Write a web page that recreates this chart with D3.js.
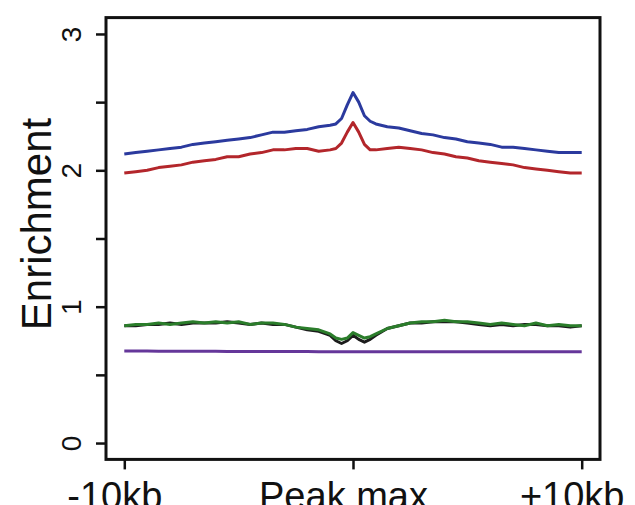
<!DOCTYPE html>
<html>
<head>
<meta charset="utf-8">
<script src="https://cdn.jsdelivr.net/npm/d3@7"></script>
<style>
  body { margin: 0; background: #fff; }
  svg { display: block; }
  text { font-family: "Liberation Sans", Arial, Helvetica, sans-serif; fill: #111; }
</style>
</head>
<body>
<div id="chart"></div>
<script>
(function() {

    var width = 635;
    var height = 505;

    // distance from peak max, in bp
    var positions = [-10000, -9500, -9000, -8500, -8000, -7500, -7000, -6500, -6000, -5500,
                     -5000, -4500, -4000, -3500, -3000, -2500, -2000, -1500, -1000, -750,
                     -500, -250, 0, 250, 500, 750, 1000, 1500, 2000, 2500,
                     3000, 3500, 4000, 4500, 5000, 5500, 6000, 6500, 7000, 7500,
                     8000, 8500, 9000, 9500, 10000];

    var blueVals = [2.12, 2.13, 2.14, 2.15, 2.16, 2.17, 2.19, 2.20, 2.21, 2.22,
                    2.23, 2.24, 2.26, 2.28, 2.28, 2.29, 2.30, 2.32, 2.33, 2.34,
                    2.38, 2.48, 2.57, 2.50, 2.40, 2.36, 2.34, 2.32, 2.31, 2.29,
                    2.27, 2.26, 2.24, 2.23, 2.21, 2.20, 2.19, 2.17, 2.17, 2.16,
                    2.15, 2.14, 2.13, 2.13, 2.13];

    var redVals = [1.98, 1.99, 2.00, 2.02, 2.03, 2.04, 2.06, 2.07, 2.08, 2.10,
                   2.10, 2.12, 2.13, 2.15, 2.15, 2.16, 2.16, 2.14, 2.15, 2.16,
                   2.20, 2.28, 2.35, 2.28, 2.19, 2.15, 2.15, 2.16, 2.17, 2.16,
                   2.15, 2.13, 2.12, 2.10, 2.09, 2.07, 2.06, 2.05, 2.04, 2.02,
                   2.01, 2.00, 1.99, 1.98, 1.98];

    var blackVals = [0.86, 0.86, 0.87, 0.87, 0.88, 0.87, 0.88, 0.88, 0.88, 0.89,
                     0.88, 0.87, 0.88, 0.87, 0.87, 0.85, 0.83, 0.82, 0.79, 0.75,
                     0.73, 0.75, 0.79, 0.76, 0.74, 0.76, 0.79, 0.84, 0.86, 0.88,
                     0.88, 0.89, 0.89, 0.89, 0.88, 0.87, 0.86, 0.87, 0.86, 0.87,
                     0.87, 0.86, 0.86, 0.85, 0.86];

    var greenVals = [0.86, 0.87, 0.87, 0.88, 0.87, 0.88, 0.89, 0.88, 0.89, 0.88,
                     0.89, 0.87, 0.88, 0.88, 0.87, 0.85, 0.84, 0.83, 0.80, 0.77,
                     0.76, 0.77, 0.81, 0.79, 0.77, 0.78, 0.80, 0.84, 0.86, 0.88,
                     0.89, 0.89, 0.90, 0.89, 0.89, 0.88, 0.87, 0.88, 0.87, 0.86,
                     0.88, 0.86, 0.87, 0.86, 0.86];

    var purpleVals = [0.675, 0.675, 0.675, 0.674, 0.674, 0.674, 0.673, 0.673, 0.673, 0.672,
                      0.672, 0.672, 0.672, 0.671, 0.671, 0.671, 0.671, 0.670, 0.670, 0.670,
                      0.670, 0.670, 0.670, 0.670, 0.670, 0.670, 0.670, 0.670, 0.670, 0.670,
                      0.670, 0.670, 0.670, 0.670, 0.670, 0.670, 0.669, 0.669, 0.669, 0.669,
                      0.669, 0.669, 0.669, 0.669, 0.669];

    var xTicks = [-10000, 0, 10000];
    var xTickLabels = ["-10kb", "Peak max", "+10kb"];
    var yTicks = [0, 0.5, 1, 1.5, 2, 2.5, 3];

    var series = [
        { name: 'purple', color: '#65379a', values: purpleVals },
        { name: 'black', color: '#1c1c1c', values: blackVals },
        { name: 'green', color: '#2b7d2b', values: greenVals },
        { name: 'red', color: '#b3262b', values: redVals },
        { name: 'blue', color: '#2b3a9e', values: blueVals }
    ];

    // plot box (R style, ranges padded by 4%)
    var box = { left: 106, right: 600, top: 17.6, bottom: 459.4 };

    var x = d3.scaleLinear()
        .domain([-10800, 10800])
        .range([box.left, box.right]);

    var y = d3.scaleLinear()
        .domain([-0.12, 3.12])
        .range([box.bottom, box.top]);

    var svg = d3.select('#chart').append('svg')
        .attr('width', width)
        .attr('height', height);

    var line = d3.line()
        .x(function(d, i) { return x(positions[i]); })
        .y(function(d) { return y(d); });

    svg.selectAll('path.series')
        .data(series)
        .enter()
        .append('path')
        .attr('class', 'series')
        .attr('d', function(d) { return line(d.values); })
        .style('fill', 'none')
        .style('stroke', function(d) { return d.color; })
        .style('stroke-width', 3)
        .style('stroke-linejoin', 'round');

    // box round the plot
    svg.append('rect')
        .attr('x', box.left)
        .attr('y', box.top)
        .attr('width', box.right - box.left)
        .attr('height', box.bottom - box.top)
        .style('fill', 'none')
        .style('stroke', '#111')
        .style('stroke-width', 3);

    // y axis
    var yAxis = svg.append('g')
        .attr('transform', 'translate(' + box.left + ',0)')
        .call(d3.axisLeft(y)
            .tickValues(yTicks)
            .tickSize(10)
            .tickFormat(function(d) { return Number.isInteger(d) ? d : ''; }));
    yAxis.select('.domain').remove();
    yAxis.selectAll('.tick line').style('stroke', '#111').style('stroke-width', 2.5);
    yAxis.selectAll('.tick text')
        .attr('x', null)
        .attr('dy', null)
        .attr('text-anchor', 'middle')
        .attr('transform', 'translate(-25,0) rotate(-90)')
        .style('font-size', '28px')
        .style('fill', '#111');

    // x axis
    var xAxis = svg.append('g')
        .attr('transform', 'translate(0,' + box.bottom + ')')
        .call(d3.axisBottom(x)
            .tickValues(xTicks)
            .tickSize(10)
            .tickFormat(function(d, i) { return xTickLabels[i]; }));
    xAxis.select('.domain').remove();
    xAxis.selectAll('.tick line').style('stroke', '#111').style('stroke-width', 2.5);
    xAxis.selectAll('.tick text')
        .attr('y', 50)
        .attr('dy', null)
        .attr('dx', -10)
        .style('font-size', '38px')
        .style('fill', '#111');

    // axis title
    svg.append('text')
        .attr('transform', 'translate(51,' + 224 + ') rotate(-90)')
        .attr('text-anchor', 'middle')
        .style('font-size', '42px')
        .text('Enrichment');

})();
</script>
</body>
</html>
